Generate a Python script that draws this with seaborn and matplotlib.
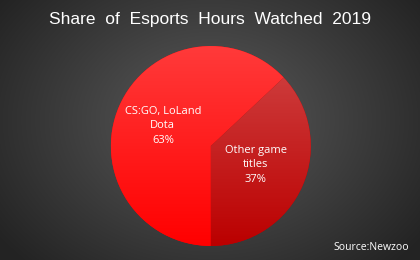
import numpy as np
import seaborn as sns
import matplotlib.pyplot as plt
from matplotlib.colors import LinearSegmentedColormap

# data
labels = ['CS:GO, LoLand\nDota', 'Other game\ntitles']
shares = [63, 37]
title = 'Share  of  Esports  Hours  Watched  2019'
source = 'Source:Newzoo'

sns.set_theme(style='white')
plt.rcParams['font.family'] = ['Open Sans', 'DejaVu Sans']

fig = plt.figure(figsize=(4.2, 2.6), dpi=100)

# radial background
bg = fig.add_axes([0, 0, 1, 1])
yy, xx = np.mgrid[0:260, 0:420]
r = np.sqrt(((xx - 210) / 260.0) ** 2 + ((yy - 120) / 200.0) ** 2)
shade = np.clip(0.36 - 0.22 * r, 0.14, 0.36)
bg.imshow(np.dstack([shade] * 3), aspect='auto', extent=[0, 1, 0, 1])
bg.set_axis_off()

ax = fig.add_axes([0.264, 0.054, 0.476, 0.769])
wedges, _ = ax.pie(shares, startangle=-90, counterclock=False,
                   colors=['#ff0000', '#c00000'],
                   wedgeprops=dict(linewidth=0))

# vertical gradient inside each wedge
grads = [('#ff3a3a', '#ff0000'), ('#d04545', '#bb0000')]
for w, (top, bot) in zip(wedges, grads):
    cmap = LinearSegmentedColormap.from_list('g', [bot, top])
    g = np.linspace(0, 1, 200).reshape(-1, 1)
    im = ax.imshow(g, cmap=cmap, origin='lower', extent=[-1, 1, -1, 1],
                   aspect='auto', zorder=w.get_zorder())
    im.set_clip_path(w)
ax.set_xlim(-1, 1)
ax.set_ylim(-1, 1)
ax.set_aspect('equal')

ax.text(-0.48, 0.20, labels[0] + '\n' + f'{shares[0]}%', color='white',
        ha='center', va='center', fontsize=8, linespacing=1.45)
ax.text(0.45, -0.19, labels[1] + '\n' + f'{shares[1]}%', color='white',
        ha='center', va='center', fontsize=8, linespacing=1.45)

fig.text(0.5, 0.925, title, color='white', ha='center', va='center',
         fontsize=12.5, family=['Liberation Sans', 'DejaVu Sans'])
fig.text(0.975, 0.05, source, color='white', ha='right', va='center',
         fontsize=7.5)

fig.savefig('out.png', dpi=100)
